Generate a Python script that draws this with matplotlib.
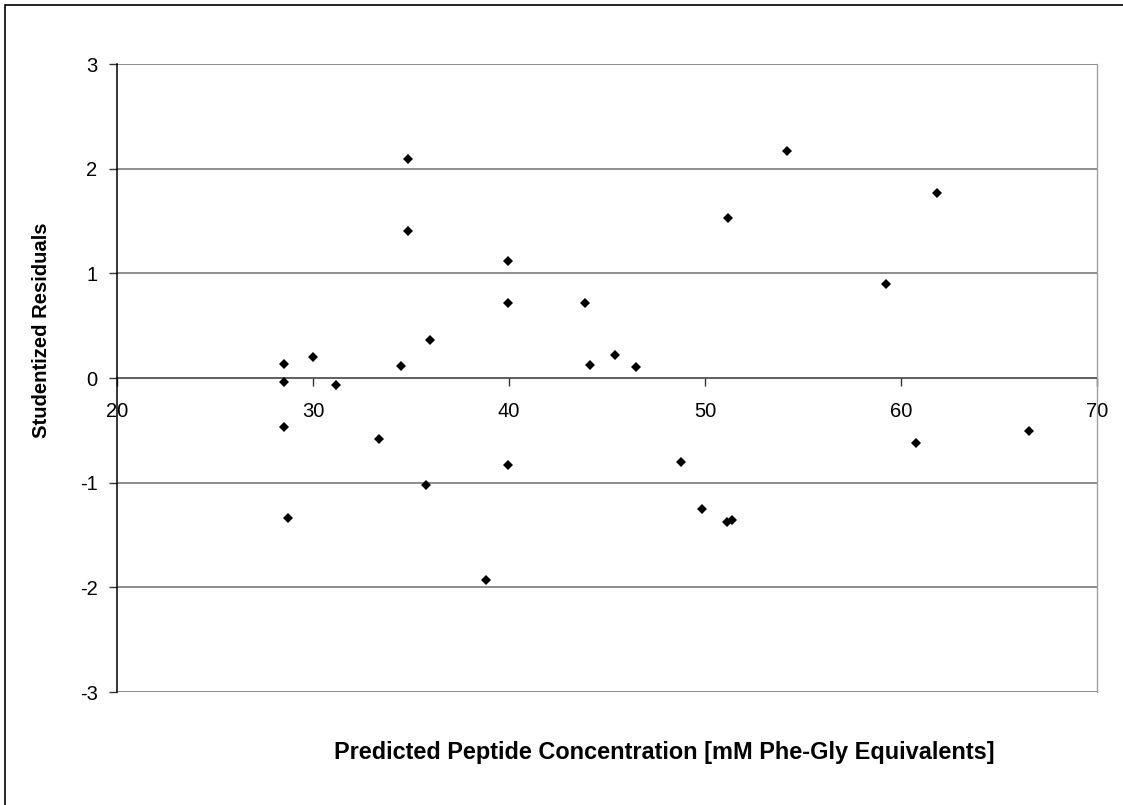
import matplotlib
matplotlib.use("Agg")
import matplotlib.pyplot as plt
from matplotlib.patches import Rectangle

plt.rcParams['font.family'] = ['Liberation Sans', 'DejaVu Sans']

x_vals = [28.5, 28.5, 30.0, 31.15, 34.5, 35.97, 44.13, 45.42, 46.49,
          28.5, 33.37, 39.93, 48.78, 35.78, 28.74, 49.85, 51.13, 51.37,
          38.84, 34.83, 34.83, 39.95, 39.95, 43.9, 54.2, 51.15, 61.84,
          59.26, 60.77, 66.53]
y_vals = [0.13, -0.035, 0.20, -0.07, 0.11, 0.36, 0.12, 0.22, 0.105,
          -0.47, -0.58, -0.83, -0.80, -1.02, -1.34, -1.25, -1.38, -1.36,
          -1.93, 2.095, 1.40, 1.12, 0.72, 0.72, 2.17, 1.53, 1.77,
          0.90, -0.62, -0.51]
x_ticks = [20, 30, 40, 50, 60, 70]
y_ticks = [-3, -2, -1, 0, 1, 2, 3]
x_label = "Predicted Peptide Concentration [mM Phe-Gly Equivalents]"
y_label = "Studentized Residuals"

W, H = 1123, 805
fig = plt.figure(figsize=(W / 100, H / 100), dpi=100)
ax = fig.add_axes([117 / W, 1 - 692 / H, (1097 - 117) / W, (692 - 64) / H])

ax.set_xlim(20, 70)
ax.set_ylim(-3, 3)
ax.set_yticks(y_ticks)
ax.set_xticks(x_ticks)
ax.set_yticklabels([str(v) for v in y_ticks])
ax.set_xticklabels([str(v) for v in x_ticks])

for v in y_ticks:
    if v != 0:
        ax.axhline(v, color='#6e6e6e', lw=1.1, zorder=1)

ax.spines['top'].set_visible(False)
ax.spines['right'].set_color('#a0a0a0')
ax.spines['right'].set_linewidth(1.0)
ax.spines['left'].set_color('black')
ax.spines['left'].set_linewidth(1.1)
ax.spines['bottom'].set_position(('data', 0))
ax.spines['bottom'].set_color('#333333')
ax.spines['bottom'].set_linewidth(1.1)
ax.spines['bottom'].set_zorder(1)

ax.tick_params(axis='y', direction='out', length=6, width=1, color='#333333',
               labelsize=14.5, pad=8)
ax.tick_params(axis='x', direction='out', length=6, width=1, color='#333333',
               labelsize=14.5, pad=11)

ax.plot(x_vals, y_vals, linestyle='none', marker='D', markersize=5.3,
        color='black', markeredgewidth=0, zorder=3, clip_on=False)

fig.text(664 / W, 1 - 752 / H, x_label, fontsize=16.9, fontweight='bold',
         ha='center', va='center')
fig.text(42 / W, 1 - 330 / H, y_label, fontsize=14.6, fontweight='bold',
         ha='center', va='center', rotation=90)

fig.patches.append(Rectangle((5 / W, -0.1), 1.2, 1 - 5 / H + 0.1,
                             transform=fig.transFigure, fill=False,
                             edgecolor='black', lw=1.2))

fig.savefig("out.png", dpi=100, facecolor='white')
